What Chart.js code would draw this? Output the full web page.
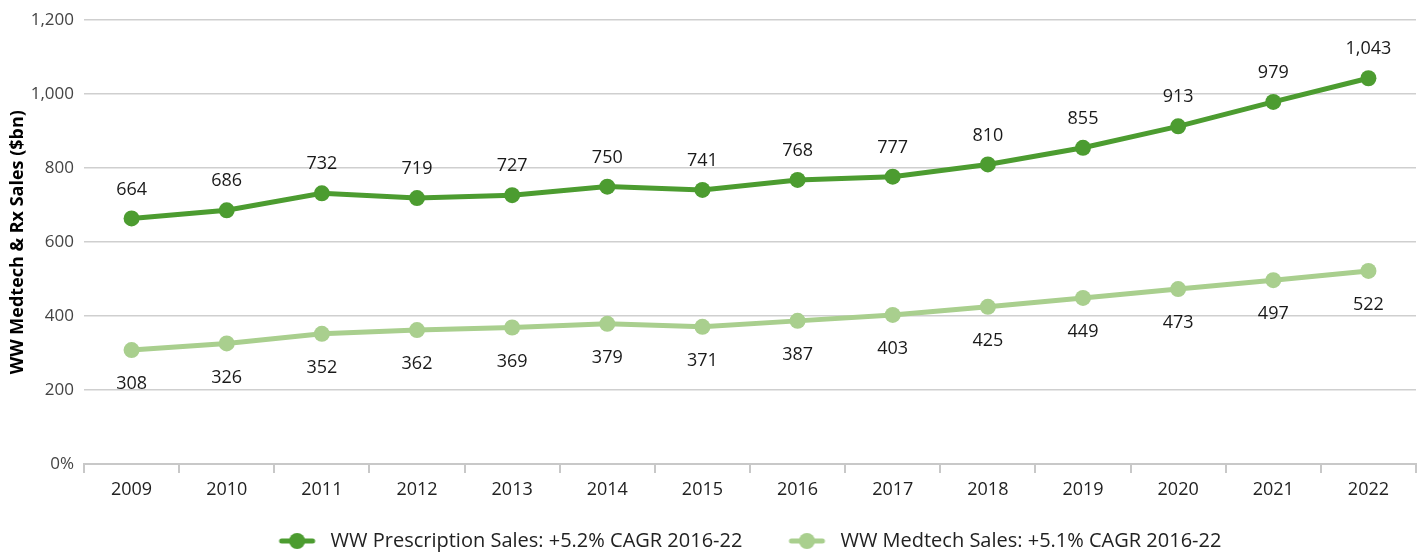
<!DOCTYPE html>
<html><head><meta charset="utf-8">
<script src="https://cdn.jsdelivr.net/npm/chart.js@4/dist/chart.umd.min.js"></script>
<style>html,body{margin:0;padding:0;background:#fff}#wrap{width:1424px;height:554px}</style>
</head><body><div id="wrap"><canvas id="c" width="1424" height="554"></canvas></div>
<script>
const years = ['2009','2010','2011','2012','2013','2014','2015','2016','2017','2018','2019','2020','2021','2022'];
const rxSales = [664,686,732,719,727,750,741,768,777,810,855,913,979,1043];
const medtechSales = [308,326,352,362,369,379,371,387,403,425,449,473,497,522];
const seriesNames = ['WW Prescription Sales: +5.2% CAGR 2016-22','WW Medtech Sales: +5.1% CAGR 2016-22'];
const yTickValues = [0,200,400,600,800,1000,1200];
const yTitle = 'WW Medtech & Rx Sales ($bn)';

const dark = '#4c9c30', light = '#a9cf8e';
const FONT = '"Open Sans", Lato, sans-serif';

const ICON_W = 82;
function legendIcon(color){
  const c = document.createElement('canvas'); c.width = ICON_W; c.height = 18;
  const g = c.getContext('2d');
  const x0 = ICON_W - 41, x1 = ICON_W - 6;
  g.strokeStyle = color; g.lineWidth = 5; g.lineCap='round';
  g.beginPath(); g.moveTo(x0+2,9); g.lineTo(x1-2,9); g.stroke();
  g.fillStyle = color; g.beginPath(); g.arc((x0+x1)/2,9,8,0,Math.PI*2); g.fill();
  return c;
}

const labelPlugin = {
  id:'vals',
  afterLayout(chart){
    const lg = chart.legend;
    if (lg) { lg.left += 21; lg.right += 21; lg.top += 7; lg.bottom += 7; }
  },
  afterDatasetsDraw(chart){
    const ctx = chart.ctx;
    ctx.save();
    ctx.font = '18px ' + FONT; ctx.fillStyle = '#1a1a1a';
    ctx.textAlign='center'; ctx.textBaseline='middle';
    chart.data.datasets.forEach((ds,i)=>{
      const meta = chart.getDatasetMeta(i);
      meta.data.forEach((pt,j)=>{
        const v = ds.data[j];
        const y = i===0 ? pt.y - 29 : pt.y + 34;
        ctx.fillText(v.toLocaleString('en-US'), pt.x, y);
      });
    });
    ctx.restore();
  }
};

new Chart(document.getElementById('c'), {
  type:'line',
  data:{
    labels: years,
    datasets:[
      {label: seriesNames[0], data: rxSales, borderColor: dark, backgroundColor: dark, borderWidth:5, pointStyle:'circle', pointRadius:8, pointHoverRadius:8, pointBackgroundColor: dark, pointBorderColor: dark, pointBorderWidth:0, tension:0},
      {label: seriesNames[1], data: medtechSales, borderColor: light, backgroundColor: light, borderWidth:5, pointStyle:'circle', pointRadius:8, pointHoverRadius:8, pointBackgroundColor: light, pointBorderColor: light, pointBorderWidth:0, tension:0}
    ]
  },
  options:{
    responsive:false, animation:false,
    layout:{padding:{left:0,right:6,top:10,bottom:0}},
    plugins:{
      legend:{position:'bottom', labels:{usePointStyle:true, pointStyleWidth:ICON_W, boxHeight:18, color:'#222', font:{family:FONT,size:20}, padding:6,
        generateLabels(chart){
          return chart.data.datasets.map((ds,i)=>({text: ds.label, pointStyle: legendIcon(i===0?dark:light), fillStyle: ds.borderColor, strokeStyle: ds.borderColor, lineWidth:0, datasetIndex:i, fontColor:'#222'}));
        }}},
      tooltip:{enabled:false}
    },
    scales:{
      x:{
        offset:true,
        afterFit(axis){ axis.height = 54; },
        grid:{display:true, drawOnChartArea:false, offset:true, tickLength:9, color:'#c8c8c8', lineWidth:2},
        border:{color:'#c8c8c8', width:2},
        ticks:{color:'#222', font:{family:FONT,size:18}, padding:6}
      },
      y:{
        min:0, max:1200,
        afterFit(axis){ axis.width = 84; },
        afterBuildTicks(axis){ axis.ticks = yTickValues.map(v=>({value:v})); },
        grid:{color:'#cfcfcf', lineWidth:1.5, drawTicks:false},
        border:{display:false},
        ticks:{color:'#444', font:{family:FONT,size:17}, padding:10,
          callback:(v)=> v===0 ? '0%' : v.toLocaleString('en-US')},
        title:{display:true, text:yTitle, color:'#000', font:{family:FONT,size:18,weight:'bold'}, padding:{top:7,bottom:0}}
      }
    }
  },
  plugins:[labelPlugin]
});
</script></body></html>
